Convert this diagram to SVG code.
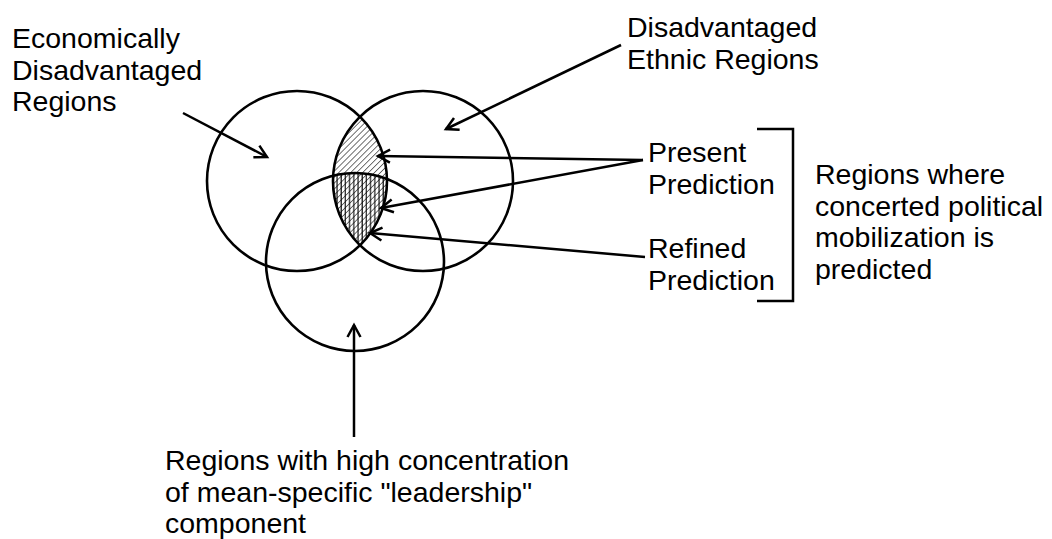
<svg xmlns="http://www.w3.org/2000/svg" width="1052" height="539" viewBox="0 0 1052 539">
  <style>
    .ring { fill: none; stroke: #000; stroke-width: 2.6; }
    .conn { fill: none; stroke: #000; stroke-width: 2.5; }
    .lbl { font-family: "Liberation Sans", Arial, sans-serif; font-size: 28.5px; fill: #000; }
  </style>
  <defs>
    <marker id="arrow" markerUnits="userSpaceOnUse" markerWidth="20" markerHeight="20" refX="0" refY="0" viewBox="-14 -10 16 20" orient="auto">
      <path d="M-12,-6.5 L0,0 L-12,6.5" fill="none" stroke="#000" stroke-width="2.5"/>
    </marker>
    <pattern id="diag" patternUnits="userSpaceOnUse" width="4.2" height="4.2" patternTransform="rotate(45)">
      <line x1="0" y1="0" x2="0" y2="4.2" stroke="#000" stroke-width="1.1"/>
    </pattern>
    <pattern id="vert" patternUnits="userSpaceOnUse" width="4.2" height="4.2">
      <line x1="1" y1="0" x2="1" y2="4.2" stroke="#000" stroke-width="1.1"/>
    </pattern>
    <clipPath id="clipEcon"><circle cx="297" cy="181" r="90"/></clipPath>
    <clipPath id="clipEthnic"><circle cx="423" cy="181" r="90"/></clipPath>
    <clipPath id="clipLead"><circle cx="355" cy="262" r="89"/></clipPath>
  </defs>

  <rect width="1052" height="539" fill="#fff"/>

  <!-- shaded overlap: two-set lens hatched, three-set core cross-hatched -->
  <g id="overlap">
    <g clip-path="url(#clipEcon)">
      <g clip-path="url(#clipEthnic)">
        <rect x="320" y="100" width="80" height="160" fill="url(#diag)"/>
        <g clip-path="url(#clipLead)">
          <rect x="320" y="100" width="80" height="160" fill="url(#vert)"/>
        </g>
      </g>
    </g>
  </g>

  <g id="set-economic"><circle class="ring" cx="297" cy="181" r="90"/></g>
  <g id="set-ethnic"><circle class="ring" cx="423" cy="181" r="90"/></g>
  <g id="set-leadership"><circle class="ring" cx="355" cy="262" r="89"/></g>

  <g id="connectors">
    <line class="conn" x1="183" y1="113" x2="267" y2="157" marker-end="url(#arrow)"/>
    <line class="conn" x1="621" y1="45" x2="446" y2="129" marker-end="url(#arrow)"/>
    <line class="conn" x1="643" y1="160" x2="378" y2="156" marker-end="url(#arrow)"/>
    <line class="conn" x1="643" y1="160" x2="381" y2="208" marker-end="url(#arrow)"/>
    <line class="conn" x1="645" y1="257" x2="370" y2="233" marker-end="url(#arrow)"/>
    <line class="conn" x1="354" y1="437" x2="354" y2="325" marker-end="url(#arrow)"/>
    <polyline class="conn" points="757,129 793,129 793,301 757,301"/>
  </g>

  <g id="label-economic">
    <text class="lbl" x="12" y="48">Economically</text>
    <text class="lbl" x="12" y="80">Disadvantaged</text>
    <text class="lbl" x="12" y="111">Regions</text>
  </g>
  <g id="label-ethnic">
    <text class="lbl" x="627" y="37">Disadvantaged</text>
    <text class="lbl" x="627" y="69">Ethnic Regions</text>
  </g>
  <g id="label-present">
    <text class="lbl" x="648" y="162">Present</text>
    <text class="lbl" x="648" y="194">Prediction</text>
  </g>
  <g id="label-refined">
    <text class="lbl" x="648" y="258">Refined</text>
    <text class="lbl" x="648" y="290">Prediction</text>
  </g>
  <g id="label-mobilization">
    <text class="lbl" x="815" y="184">Regions where</text>
    <text class="lbl" x="815" y="216">concerted political</text>
    <text class="lbl" x="815" y="247">mobilization is</text>
    <text class="lbl" x="815" y="279">predicted</text>
  </g>
  <g id="label-leadership">
    <text class="lbl" x="165" y="470">Regions with high concentration</text>
    <text class="lbl" x="165" y="502">of mean-specific "leadership"</text>
    <text class="lbl" x="165" y="533">component</text>
  </g>
</svg>
